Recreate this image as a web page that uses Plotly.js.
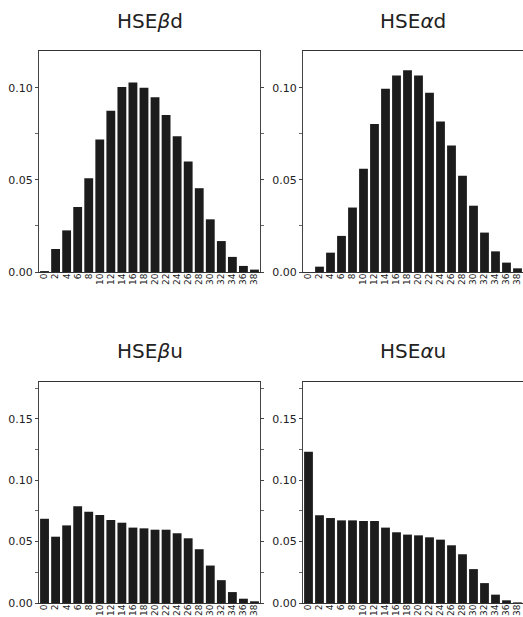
<!DOCTYPE html>
<html><head><meta charset="utf-8">
<script src="https://cdn.plot.ly/plotly-3.0.1.min.js"></script>
<style>html,body{margin:0;padding:0;background:#fff}</style>
</head><body>
<div id="chart" style="width:523px;height:617px"></div>
<script>
const categories = ['0','2','4','6','8','10','12','14','16','18','20','22','24','26','28','30','32','34','36','38'];
const titles = ['HSE<i>β</i>d', 'HSE<i>α</i>d', 'HSE<i>β</i>u', 'HSE<i>α</i>u'];
const betaD  = [0.0005,0.0125,0.0226,0.0353,0.0509,0.0719,0.0875,0.1004,0.1029,0.1000,0.0949,0.0853,0.0737,0.0600,0.0455,0.0286,0.0168,0.0082,0.0033,0.0013];
const alphaD = [0.0000,0.0029,0.0105,0.0196,0.0350,0.0560,0.0804,0.0995,0.1067,0.1096,0.1067,0.0973,0.0817,0.0687,0.0522,0.0360,0.0214,0.0112,0.0051,0.0020];
const betaU  = [0.0686,0.0540,0.0632,0.0789,0.0743,0.0716,0.0676,0.0654,0.0614,0.0608,0.0597,0.0597,0.0568,0.0527,0.0438,0.0305,0.0186,0.0089,0.0035,0.0014];
const alphaU = [0.1232,0.0714,0.0692,0.0673,0.0673,0.0668,0.0668,0.0614,0.0576,0.0557,0.0551,0.0535,0.0516,0.0470,0.0397,0.0276,0.0162,0.0068,0.0022,0.0005];
const yTopRange = [0, 0.12];
const yBottomRange = [0, 0.18];

const W = 523, H = 617;
const series = [betaD, alphaD, betaU, alphaU];
const xDom = [[39/W, 260/W], [303/W, 1.0], [39/W, 260/W], [303/W, 1.0]];
const yDom = [[1-272/H, 1-51/H], [1-272/H, 1-51/H], [1-603/H, 1-382/H], [1-603/H, 1-382/H]];
const yRanges = [yTopRange, yTopRange, yBottomRange, yBottomRange];
const titleY = [21, 21, 351, 351];

const font = 'DejaVu Sans, Liberation Sans, Arial, sans-serif';
const data = [];
const layout = {
  width: W, height: H,
  margin: {l:0, r:0, t:0, b:0},
  paper_bgcolor: '#fff', plot_bgcolor: '#fff',
  showlegend: false,
  bargap: 0.2,
  font: {family: font, color: '#222'},
  annotations: []
};

for (let i = 0; i < 4; i++) {
  const n = i === 0 ? '' : String(i + 1);
  data.push({
    type: 'bar', x: categories, y: series[i],
    xaxis: 'x' + n, yaxis: 'y' + n,
    marker: {color: '#1c1c1c', line: {width: 0}},
    hoverinfo: 'skip'
  });
  layout['xaxis' + n] = {
    domain: xDom[i], anchor: 'y' + n, type: 'category',
    range: [-0.5, 19.5],
    tickmode: 'array', tickvals: categories, ticktext: categories,
    showline: true, linecolor: '#333', linewidth: 1, mirror: true,
    ticks: '', showgrid: false, zeroline: false,
    tickangle: -90, ticklabelstandoff: -3,
    tickfont: {size: 9, family: font, color: '#222'},
    fixedrange: true
  };
  layout['yaxis' + n] = {
    domain: yDom[i], anchor: 'x' + n,
    range: yRanges[i], dtick: 0.05, tick0: 0, tickformat: '.2f',
    showline: true, linecolor: '#444', linewidth: 1,
    mirror: (i % 2 === 0) ? 'ticks' : false,
    ticks: 'outside', ticklen: 3, tickcolor: '#444',
    minor: {dtick: 0.025, ticks: 'outside', ticklen: 3, tickcolor: '#666'},
    showgrid: false, zeroline: false,
    tickfont: {size: 11, family: font, color: '#222'},
    fixedrange: true
  };
  layout.annotations.push({
    text: titles[i], xref: 'paper', yref: 'paper',
    x: (xDom[i][0] + xDom[i][1]) / 2, y: 1 - titleY[i] / H,
    xanchor: 'center', yanchor: 'middle', showarrow: false,
    font: {size: 20, family: font, color: '#222'}
  });
}

Plotly.newPlot('chart', data, layout, {displayModeBar: false, staticPlot: true});
</script>
</body></html>
